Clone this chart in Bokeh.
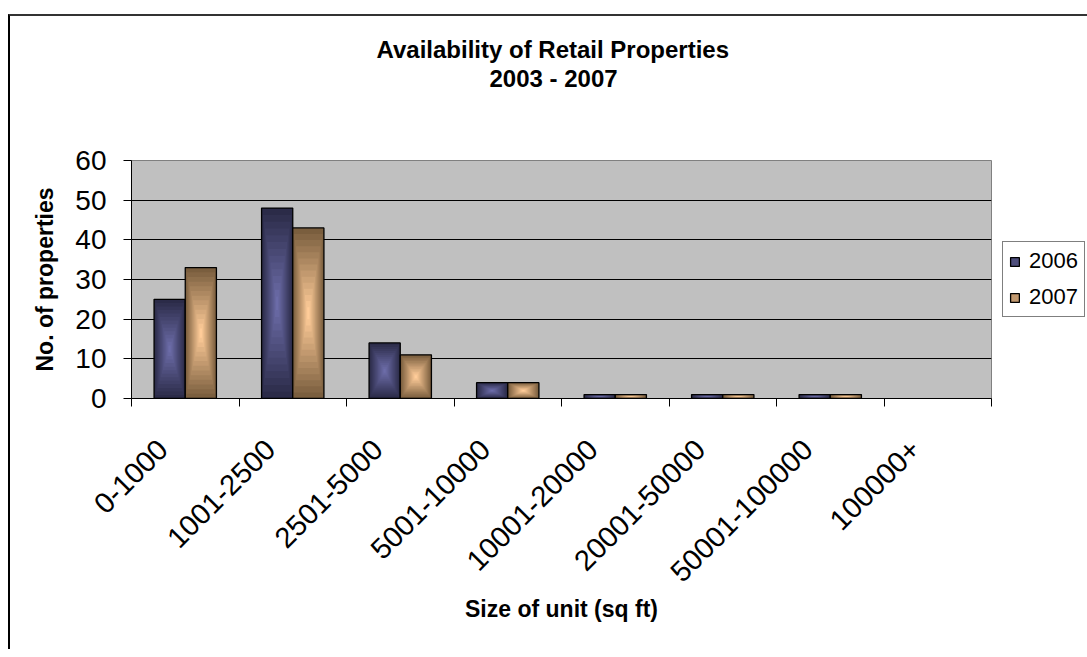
import math
from bokeh.plotting import figure
from bokeh.models import Range1d, FixedTicker, Legend, LegendItem, ColumnDataSource, Title
from bokeh.embed import file_html
from bokeh.resources import INLINE

# ---- data ----
categories = ["0-1000", "1001-2500", "2501-5000", "5001-10000",
              "10001-20000", "20001-50000", "50001-100000", "100000+"]
series_names = ["2006", "2007"]
v2006 = [25, 48, 14, 4, 1, 1, 1, 0]
v2007 = [33, 43, 11, 4, 1, 1, 1, 0]
y_ticks = [0, 10, 20, 30, 40, 50, 60]
grid_ticks = [10, 20, 30, 40, 50]
title_lines = ["Availability of Retail Properties", "2003 - 2007"]
x_title = "Size of unit (sq ft)"
y_title = "No. of properties"

# ---- styles ----
FONT = "Liberation Sans"
edge_colors = ["#2B2B48", "#7A5E3E"]
center_colors = ["#6C6CA8", "#FFCC99"]
BAR_W = 0.29
N_RINGS = 14
LABEL_SHIFT = 0.29


def hex2rgb(h):
    h = h.lstrip("#")
    return tuple(int(h[i:i + 2], 16) for i in (0, 2, 4))


def mix(c1, c2, t):
    a, b = hex2rgb(c1), hex2rgb(c2)
    return "#%02x%02x%02x" % tuple(int(round(a[i] + (b[i] - a[i]) * t)) for i in range(3))


p = figure(frame_width=860, frame_height=238, output_backend="svg", toolbar_location=None,
           title=title_lines[0],
           x_range=Range1d(0, len(categories)), y_range=Range1d(0, 60),
           min_border_left=121, min_border_top=144, min_border_right=94, min_border_bottom=251,
           background_fill_color="#C0C0C0", border_fill_color="white",
           outline_line_color="#808080", outline_line_width=1)
p.margin = (14, 0, 0, 8)
p.styles = {"border-top": "2px solid #333333", "border-left": "2px solid #000000"}

# titles (stacked outward from the frame: spacer, line 2, then the main title)
p.title.align = "left"
p.title.offset = 245
p.title.text_font = FONT
p.title.text_font_size = "24px"
p.title.text_font_style = "bold"
p.title.text_color = "black"
p.title.standoff = 0
spacer = Title(text=" ", align="left", text_font=FONT, text_font_size="24px", standoff=40)
p.add_layout(spacer, "above")
t2 = Title(text=title_lines[1], align="left", offset=358, text_font=FONT,
           text_font_size="24px", text_font_style="bold", text_color="black", standoff=0)
p.add_layout(t2, "above")

legend_items = []
for s, vals in enumerate([v2006, v2007]):
    offs = -BAR_W if s == 0 else 0.0
    ring_renderers = []
    for k in range(N_RINGS):
        f = 1.0 - k / N_RINGS
        t = k / (N_RINGS - 1)
        col = mix(edge_colors[s], center_colors[s], t)
        data = dict(left=[], right=[], bottom=[], top=[])
        for i, v in enumerate(vals):
            if v <= 0:
                continue
            cx = i + 0.5 + offs + BAR_W / 2
            data["left"].append(cx - f * BAR_W / 2)
            data["right"].append(cx + f * BAR_W / 2)
            data["bottom"].append(v / 2 - f * v / 2)
            data["top"].append(v / 2 + f * v / 2)
        r = p.quad(left="left", right="right", bottom="bottom", top="top", fill_color=col,
                   line_color=None, source=ColumnDataSource(data))
        ring_renderers.append(r)
    ol = dict(left=[], right=[], bottom=[], top=[])
    for i, v in enumerate(vals):
        if v <= 0:
            continue
        ol["left"].append(i + 0.5 + offs)
        ol["right"].append(i + 0.5 + offs + BAR_W)
        ol["bottom"].append(0)
        ol["top"].append(v)
    r_out = p.quad(left="left", right="right", bottom="bottom", top="top", fill_color=None,
                   line_color="black", line_width=1.3, source=ColumnDataSource(ol))
    legend_items.append(LegendItem(label=series_names[s],
                                   renderers=[ring_renderers[N_RINGS // 2], r_out]))

# axes
label_pos = [i + LABEL_SHIFT for i in range(len(categories))]
p.xaxis.ticker = FixedTicker(ticks=label_pos, minor_ticks=list(range(len(categories) + 1)))
p.xaxis.major_label_overrides = {c: lab for c, lab in zip(label_pos, categories)}
p.xaxis.major_tick_out = 0
p.xaxis.major_tick_in = 0
p.xaxis.minor_tick_out = 8
p.xaxis.minor_tick_in = 0
p.xaxis.major_label_orientation = math.pi / 4
p.xaxis.major_label_text_font = FONT
p.xaxis.major_label_text_font_size = "29px"
p.xaxis.major_label_text_color = "black"
p.xaxis.major_label_standoff = 38
p.xaxis.axis_line_color = "black"
p.xaxis.minor_tick_line_color = "black"
p.xaxis.axis_label = x_title
p.xaxis.axis_label_text_font = FONT
p.xaxis.axis_label_text_font_size = "23px"
p.xaxis.axis_label_text_font_style = "bold"
p.xaxis.axis_label_text_color = "black"
p.xaxis.axis_label_standoff = 2

p.yaxis.ticker = FixedTicker(ticks=y_ticks)
p.yaxis.major_tick_out = 8
p.yaxis.major_tick_in = 0
p.yaxis.minor_tick_out = 0
p.yaxis.minor_tick_in = 0
p.yaxis.major_label_text_font = FONT
p.yaxis.major_label_text_font_size = "28px"
p.yaxis.major_label_text_color = "black"
p.yaxis.major_label_standoff = 17
p.yaxis.axis_line_color = "black"
p.yaxis.major_tick_line_color = "black"
p.yaxis.axis_label = y_title
p.yaxis.axis_label_text_font = FONT
p.yaxis.axis_label_text_font_size = "23px"
p.yaxis.axis_label_text_font_style = "bold"
p.yaxis.axis_label_text_color = "black"
p.yaxis.axis_label_standoff = 14

p.xgrid.visible = False
p.ygrid.ticker = FixedTicker(ticks=grid_ticks)
p.ygrid.grid_line_color = "black"
p.ygrid.grid_line_width = 1

legend = Legend(items=legend_items, location="center_left", orientation="vertical",
                label_text_font=FONT, label_text_font_size="22px", label_text_color="black",
                glyph_width=11, glyph_height=11, label_standoff=9, label_height=25,
                spacing=10, padding=6, margin=11,
                border_line_color="black", border_line_width=1,
                background_fill_color="white", background_fill_alpha=1)
p.add_layout(legend, "right")

open("out.html", "w").write(file_html(p, INLINE))
